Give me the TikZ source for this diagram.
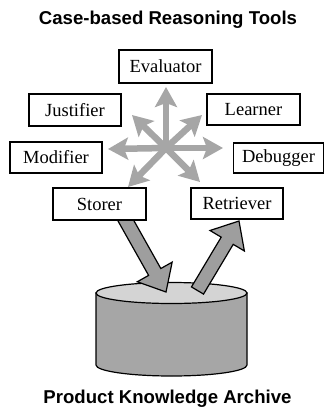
\documentclass[tikz,border=0pt]{standalone}
\usepackage{fontspec}
\setmainfont{Liberation Serif}
\newfontfamily\boxfont{Liberation Serif}
\newfontfamily\headfont{Liberation Sans}
\usetikzlibrary{calc,arrows.meta}
\definecolor{starg}{gray}{0.65}
\definecolor{arrg}{gray}{0.62}
\definecolor{cylbody}{gray}{0.65}
\definecolor{cyltop}{gray}{0.83}
\begin{document}
\begin{tikzpicture}[x=1pt,y=-1pt,
 toolbox/.style={draw=black,line width=1.4pt,fill=white,minimum width=92pt,minimum height=32pt,inner sep=0pt,font=\boxfont\fontsize{18.5}{20}\selectfont},
 heading/.style={font=\headfont\bfseries\fontsize{18.6}{22}\selectfont,inner sep=0pt,anchor=base},
 starray/.style={draw=starg,line width=6.5pt,-{Stealth[length=20pt,width=22pt,inset=4pt]}},
 bigarrow/.style={draw=black,line width=1.2pt,fill=arrg,line join=miter},
 cylline/.style={draw=black,line width=1.2pt}
]
\useasboundingbox (0,0) rectangle (325,408);

% titles
\node[heading] (title) at (168,24) {Case-based Reasoning Tools};
\node[heading] (archive) at (167.5,403) {Product Knowledge Archive};

% star of arrows
\coordinate (c) at (166,148);
\coordinate (tU) at (166,87);
\coordinate (tL) at (108,149);
\coordinate (tR) at (223,148);
\coordinate (tUL) at (132,115);
\coordinate (tUR) at (202,115);
\coordinate (tLL) at (128,187);
\coordinate (tLR) at (200,182);
\foreach \t in {tU,tL,tR,tUL,tUR,tLL,tLR}{
  \draw[starray] (c) -- (\t);
}

% cylinder
\path[cylline,fill=cylbody] (96,293) -- (96,365) arc[start angle=180,end angle=0,x radius=75.5,y radius=11] -- (247,293) -- cycle;
\path[cylline,fill=cyltop] (171.5,293) ellipse[x radius=75.5,y radius=10.5];

% big arrows
\coordinate (sT) at (121,212);
\coordinate (sP) at (166,292);
\coordinate (sB) at ($(sP)!23pt!(sT)$);
\draw[bigarrow] ($(sT)!7pt!90:(sP)$) -- ($(sB)!7pt!-90:(sT)$) -- ($(sB)!20pt!-90:(sT)$) -- (sP) -- ($(sB)!20pt!90:(sT)$) -- ($(sB)!7pt!90:(sT)$) -- ($(sT)!7pt!-90:(sP)$) -- cycle;
\coordinate (rT) at (197.5,290.5);
\coordinate (rP) at (239,221);
\coordinate (rB) at ($(rP)!23pt!(rT)$);
\draw[bigarrow] ($(rT)!7pt!90:(rP)$) -- ($(rB)!7pt!-90:(rT)$) -- ($(rB)!20pt!-90:(rT)$) -- (rP) -- ($(rB)!20pt!90:(rT)$) -- ($(rB)!7pt!90:(rT)$) -- ($(rT)!7pt!-90:(rP)$) -- cycle;

% boxes
\node[toolbox,minimum width=93pt,minimum height=33pt] (eval) at (165.5,66.5) {Evaluator};
\node[toolbox] (just) at (75,110) {Justifier};
\node[toolbox,minimum width=93pt,minimum height=31pt] (learn) at (253.5,109.5) {Learner};
\node[toolbox,minimum height=31pt] (mod) at (56,157.5) {Modifier};
\node[toolbox,minimum width=90pt,minimum height=30pt] (debug) at (278.5,158) {Debugger};
\node[toolbox,minimum width=93pt] (store) at (99.5,204) {Storer};
\node[toolbox,minimum height=31pt] (retr) at (237,203.5) {Retriever};
\end{tikzpicture}
\end{document}
